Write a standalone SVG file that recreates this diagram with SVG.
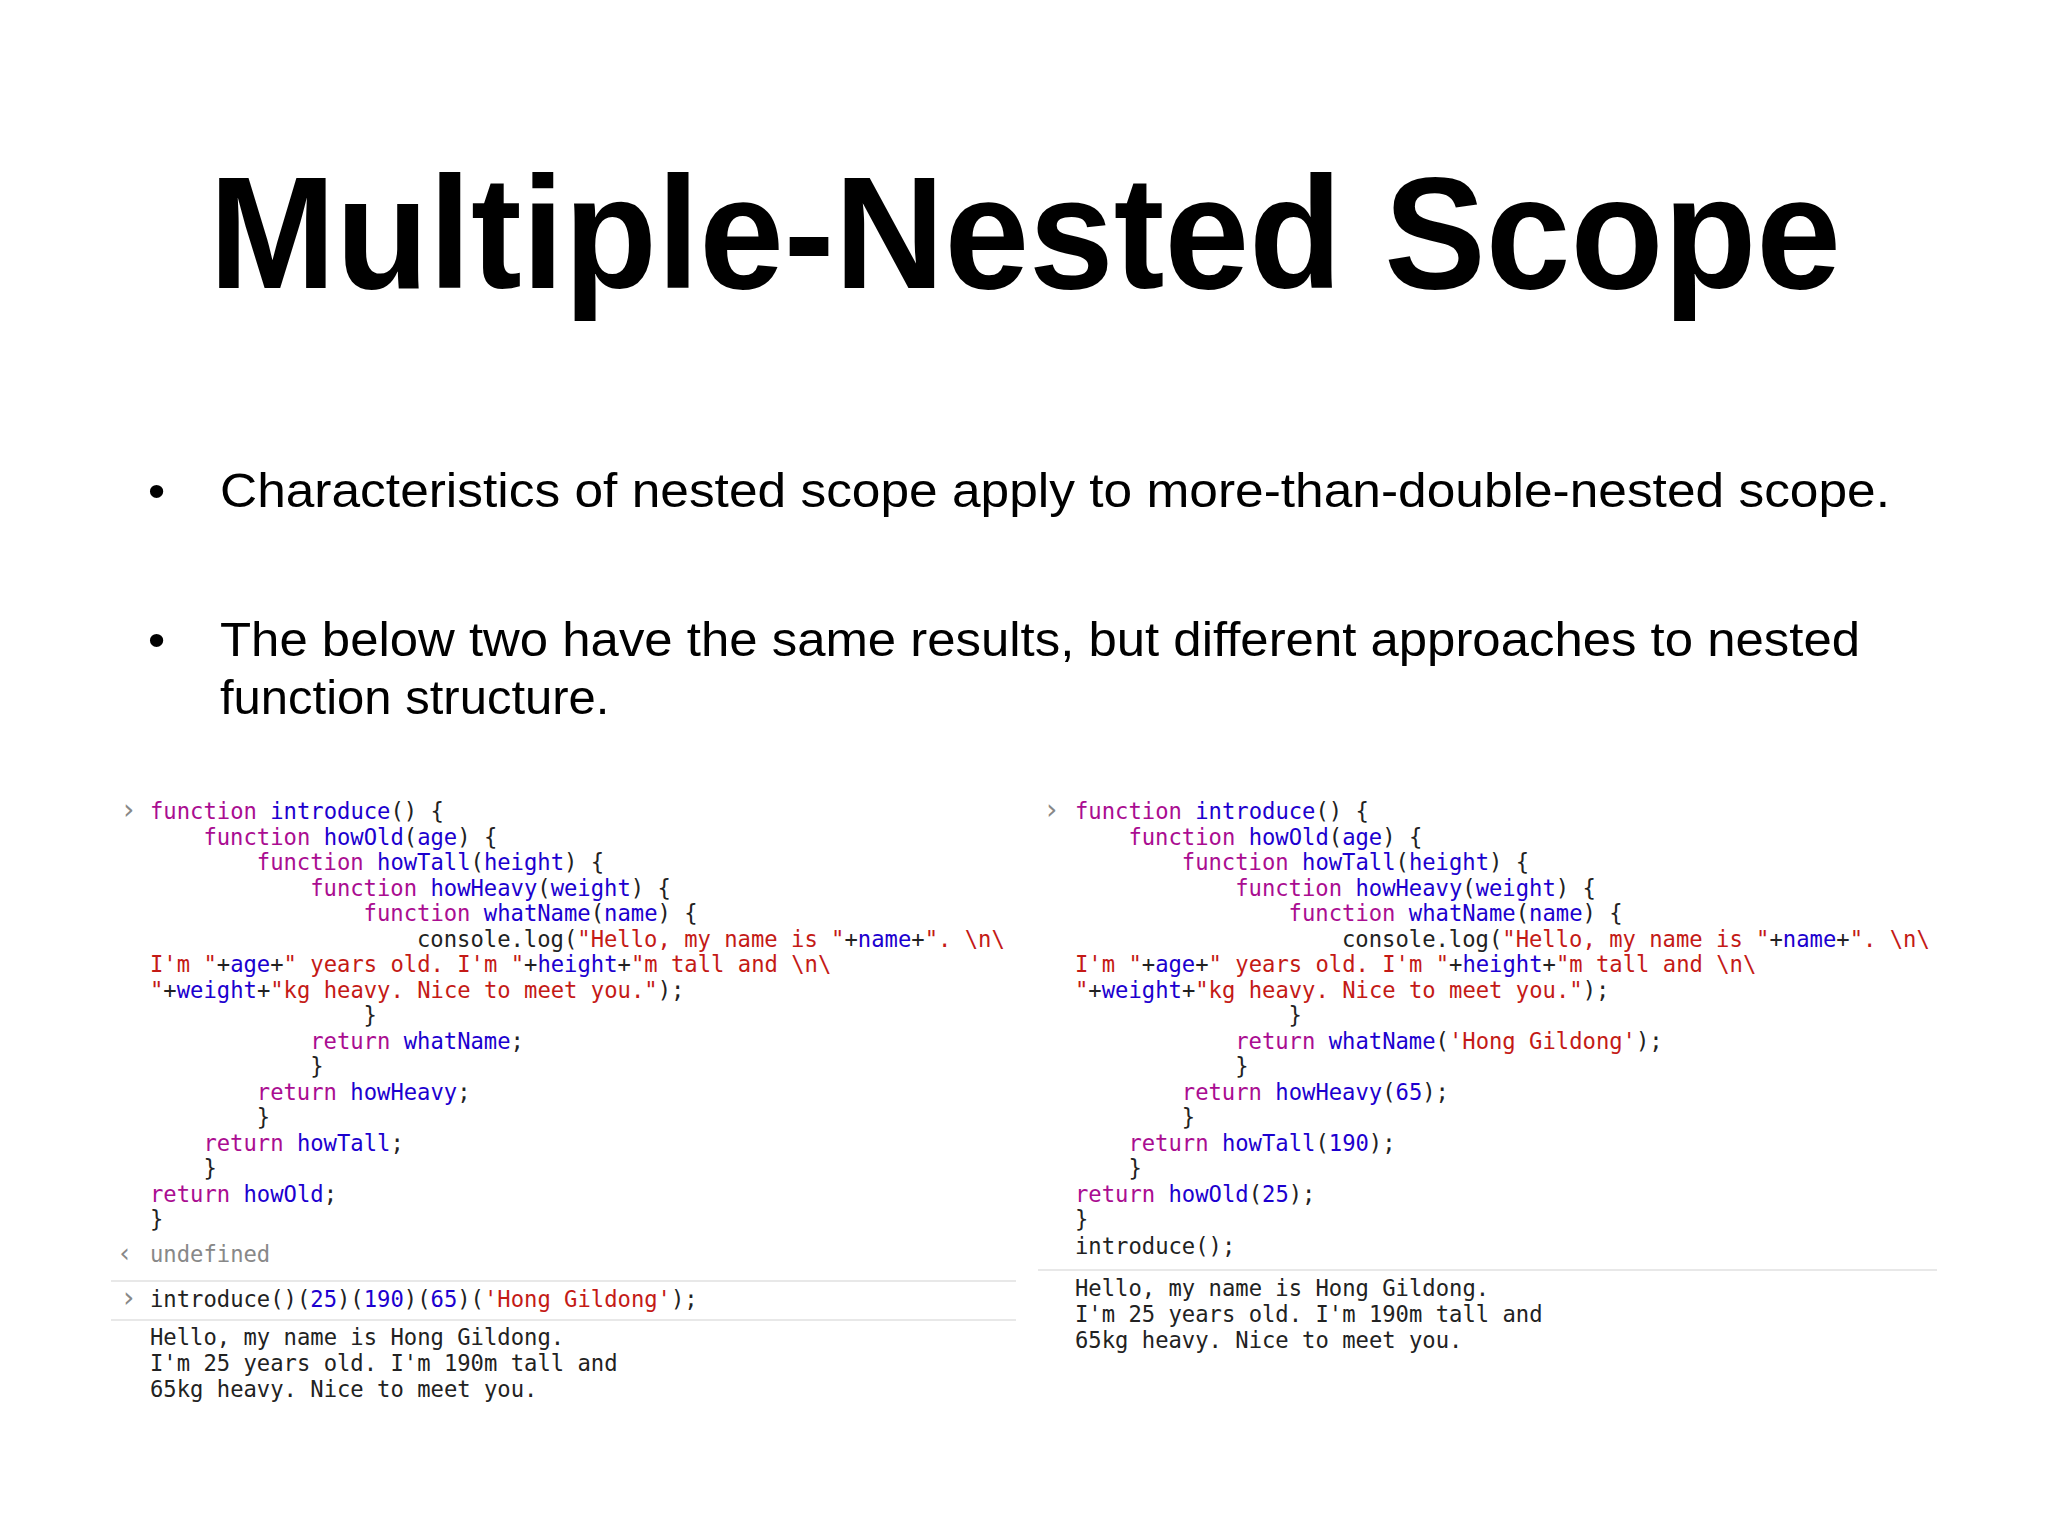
<svg xmlns="http://www.w3.org/2000/svg" width="2048" height="1536" viewBox="0 0 2048 1536">
<style>
.t{font-family:"Liberation Sans",Arial,sans-serif;fill:#000}
.c{font-family:"DejaVu Sans Mono","Liberation Mono",monospace;font-size:22.2px;fill:#222;white-space:pre}
.k{fill:#aa0d91}.n{fill:#1c00cf}.s{fill:#c41a16}.g{fill:#888}
.sep{stroke:#e8e8e8;stroke-width:2}
</style>
<rect width="2048" height="1536" fill="#fff"/>
<g id="title"><text class="t" x="1025" y="288" font-size="160" font-weight="bold" text-anchor="middle" textLength="1632" lengthAdjust="spacingAndGlyphs">Multiple-Nested Scope</text></g>
<g id="bullets" class="t" font-size="49">
<text x="148" y="507">•</text><text x="220" y="507" textLength="1670" lengthAdjust="spacingAndGlyphs">Characteristics of nested scope apply to more-than-double-nested scope.</text>
<text x="148" y="656">•</text><text x="220" y="656" textLength="1640" lengthAdjust="spacingAndGlyphs">The below two have the same results, but different approaches to nested</text>
<text x="220" y="714">function structure.</text>
</g>
<g id="left-code" class="c">
<text x="120" y="819" class="g" font-size="28">›</text>
<text x="150" y="819"><tspan class="k">function</tspan> <tspan class="n">introduce</tspan>() {</text>
<text x="203.4" y="844.5"><tspan class="k">function</tspan> <tspan class="n">howOld</tspan>(<tspan class="n">age</tspan>) {</text>
<text x="256.8" y="870"><tspan class="k">function</tspan> <tspan class="n">howTall</tspan>(<tspan class="n">height</tspan>) {</text>
<text x="310.2" y="895.5"><tspan class="k">function</tspan> <tspan class="n">howHeavy</tspan>(<tspan class="n">weight</tspan>) {</text>
<text x="363.6" y="921"><tspan class="k">function</tspan> <tspan class="n">whatName</tspan>(<tspan class="n">name</tspan>) {</text>
<text x="417" y="946.5">console.log(<tspan class="s">"Hello, my name is "</tspan>+<tspan class="n">name</tspan>+<tspan class="s">". \n\</tspan></text>
<text x="150" y="972"><tspan class="s">I'm "</tspan>+<tspan class="n">age</tspan>+<tspan class="s">" years old. I'm "</tspan>+<tspan class="n">height</tspan>+<tspan class="s">"m tall and \n\</tspan></text>
<text x="150" y="997.5"><tspan class="s">"</tspan>+<tspan class="n">weight</tspan>+<tspan class="s">"kg heavy. Nice to meet you."</tspan>);</text>
<text x="363.6" y="1023">}</text>
<text x="310.2" y="1048.5"><tspan class="k">return</tspan> <tspan class="n">whatName</tspan>;</text>
<text x="310.2" y="1074">}</text>
<text x="256.8" y="1099.5"><tspan class="k">return</tspan> <tspan class="n">howHeavy</tspan>;</text>
<text x="256.8" y="1125">}</text>
<text x="203.4" y="1150.5"><tspan class="k">return</tspan> <tspan class="n">howTall</tspan>;</text>
<text x="203.4" y="1176">}</text>
<text x="150" y="1201.5"><tspan class="k">return</tspan> <tspan class="n">howOld</tspan>;</text>
<text x="150" y="1227">}</text>
<text x="117" y="1262" class="g" font-size="26">‹</text>
<text x="150" y="1262" class="g">undefined</text>
<text x="120" y="1307" class="g" font-size="28">›</text>
<text x="150" y="1307">introduce()(<tspan class="n">25</tspan>)(<tspan class="n">190</tspan>)(<tspan class="n">65</tspan>)(<tspan class="s">'Hong Gildong'</tspan>);</text>
<text x="150" y="1345">Hello, my name is Hong Gildong.</text>
<text x="150" y="1371">I'm 25 years old. I'm 190m tall and</text>
<text x="150" y="1397">65kg heavy. Nice to meet you.</text>
</g>
<g id="right-code" class="c">
<text x="1043" y="819" class="g" font-size="28">›</text>
<text x="1075" y="819"><tspan class="k">function</tspan> <tspan class="n">introduce</tspan>() {</text>
<text x="1128.4" y="844.5"><tspan class="k">function</tspan> <tspan class="n">howOld</tspan>(<tspan class="n">age</tspan>) {</text>
<text x="1181.8" y="870"><tspan class="k">function</tspan> <tspan class="n">howTall</tspan>(<tspan class="n">height</tspan>) {</text>
<text x="1235.2" y="895.5"><tspan class="k">function</tspan> <tspan class="n">howHeavy</tspan>(<tspan class="n">weight</tspan>) {</text>
<text x="1288.6" y="921"><tspan class="k">function</tspan> <tspan class="n">whatName</tspan>(<tspan class="n">name</tspan>) {</text>
<text x="1342" y="946.5">console.log(<tspan class="s">"Hello, my name is "</tspan>+<tspan class="n">name</tspan>+<tspan class="s">". \n\</tspan></text>
<text x="1075" y="972"><tspan class="s">I'm "</tspan>+<tspan class="n">age</tspan>+<tspan class="s">" years old. I'm "</tspan>+<tspan class="n">height</tspan>+<tspan class="s">"m tall and \n\</tspan></text>
<text x="1075" y="997.5"><tspan class="s">"</tspan>+<tspan class="n">weight</tspan>+<tspan class="s">"kg heavy. Nice to meet you."</tspan>);</text>
<text x="1288.6" y="1023">}</text>
<text x="1235.2" y="1048.5"><tspan class="k">return</tspan> <tspan class="n">whatName</tspan>(<tspan class="s">'Hong Gildong'</tspan>);</text>
<text x="1235.2" y="1074">}</text>
<text x="1181.8" y="1099.5"><tspan class="k">return</tspan> <tspan class="n">howHeavy</tspan>(<tspan class="n">65</tspan>);</text>
<text x="1181.8" y="1125">}</text>
<text x="1128.4" y="1150.5"><tspan class="k">return</tspan> <tspan class="n">howTall</tspan>(<tspan class="n">190</tspan>);</text>
<text x="1128.4" y="1176">}</text>
<text x="1075" y="1201.5"><tspan class="k">return</tspan> <tspan class="n">howOld</tspan>(<tspan class="n">25</tspan>);</text>
<text x="1075" y="1227">}</text>
<text x="1075" y="1254">introduce();</text>
<text x="1075" y="1296">Hello, my name is Hong Gildong.</text>
<text x="1075" y="1322">I'm 25 years old. I'm 190m tall and</text>
<text x="1075" y="1348">65kg heavy. Nice to meet you.</text>
</g>
<g id="connectors">
<line class="sep" x1="111" y1="1281" x2="1016" y2="1281"/>
<line class="sep" x1="111" y1="1320" x2="1016" y2="1320"/>
<line class="sep" x1="1038" y1="1270" x2="1937" y2="1270"/>
</g>
</svg>
